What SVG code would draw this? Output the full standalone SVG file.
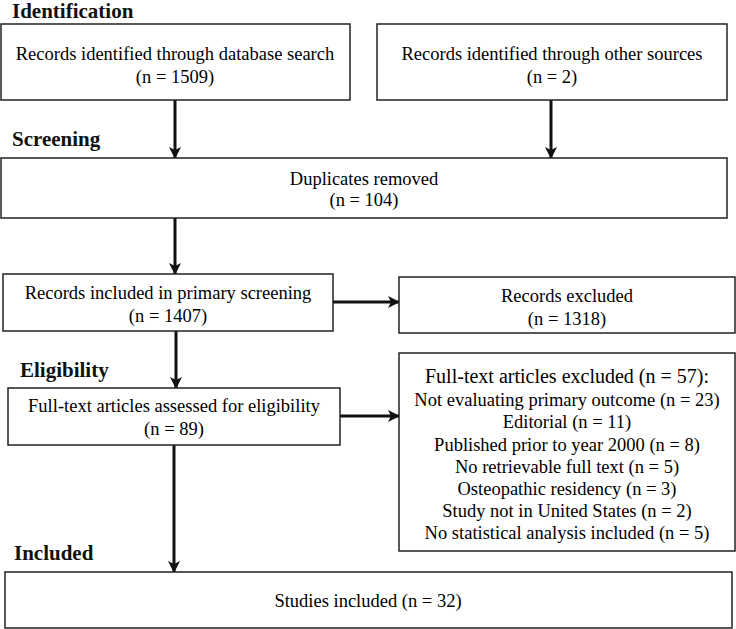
<svg xmlns="http://www.w3.org/2000/svg" width="736" height="629" viewBox="0 0 736 629">
<style>
.box{fill:#fff;stroke:#222;stroke-width:1.5}
.c{stroke:#111;stroke-width:3;fill:none}
</style>
<defs>
<marker id="ah" viewBox="0 0 12 12" refX="11" refY="6" markerWidth="12" markerHeight="12" markerUnits="userSpaceOnUse" orient="auto">
<path d="M0,0 L12,6 L0,12 L3,6 Z" fill="#111"/>
</marker>
</defs>
<rect width="736" height="629" fill="#fff"/>
<g id="headings">
<text x="12" y="18" font-family="Liberation Serif" font-size="21" font-weight="bold" fill="#111">Identification</text>
<text x="12" y="146" font-family="Liberation Serif" font-size="21" font-weight="bold" fill="#111">Screening</text>
<text x="20" y="377" font-family="Liberation Serif" font-size="21" font-weight="bold" fill="#111">Eligibility</text>
<text x="14" y="560" font-family="Liberation Serif" font-size="21" font-weight="bold" fill="#111">Included</text>
</g>
<g id="connectors">
<line class="c" x1="175" y1="100" x2="175" y2="158" marker-end="url(#ah)"/>
<line class="c" x1="551" y1="100" x2="551" y2="158" marker-end="url(#ah)"/>
<line class="c" x1="175" y1="218" x2="175" y2="274" marker-end="url(#ah)"/>
<line class="c" x1="333" y1="302" x2="399" y2="302" marker-end="url(#ah)"/>
<line class="c" x1="176" y1="331" x2="176" y2="388" marker-end="url(#ah)"/>
<line class="c" x1="340" y1="416" x2="399" y2="416" marker-end="url(#ah)"/>
<line class="c" x1="174" y1="445" x2="174" y2="572" marker-end="url(#ah)"/>
</g>
<g id="n1"><rect class="box" x="1" y="24" width="349" height="76"/>
<text x="175" y="60" font-family="Liberation Serif" font-size="18.5" text-anchor="middle">Records identified through database search</text>
<text x="175" y="83" font-family="Liberation Serif" font-size="18.5" text-anchor="middle">(n = 1509)</text></g>
<g id="n2"><rect class="box" x="377" y="24" width="350" height="76"/>
<text x="552" y="60" font-family="Liberation Serif" font-size="18.5" text-anchor="middle">Records identified through other sources</text>
<text x="552" y="83" font-family="Liberation Serif" font-size="18.5" text-anchor="middle">(n = 2)</text></g>
<g id="n3"><rect class="box" x="1" y="158" width="726" height="60"/>
<text x="364" y="185" font-family="Liberation Serif" font-size="18.5" text-anchor="middle">Duplicates removed</text>
<text x="364" y="206" font-family="Liberation Serif" font-size="18.5" text-anchor="middle">(n = 104)</text></g>
<g id="n4"><rect class="box" x="3" y="274" width="330" height="57"/>
<text x="168" y="299" font-family="Liberation Serif" font-size="18.5" text-anchor="middle">Records included in primary screening</text>
<text x="168" y="322" font-family="Liberation Serif" font-size="18.5" text-anchor="middle">(n = 1407)</text></g>
<g id="n5"><rect class="box" x="399" y="277" width="336" height="56"/>
<text x="567" y="302" font-family="Liberation Serif" font-size="18.5" text-anchor="middle">Records excluded</text>
<text x="567" y="325" font-family="Liberation Serif" font-size="18.5" text-anchor="middle">(n = 1318)</text></g>
<g id="n6"><rect class="box" x="8" y="388" width="332" height="57"/>
<text x="174" y="412" font-family="Liberation Serif" font-size="18.5" text-anchor="middle">Full-text articles assessed for eligibility</text>
<text x="174" y="435" font-family="Liberation Serif" font-size="18.5" text-anchor="middle">(n = 89)</text></g>
<g id="n7"><rect class="box" x="399" y="353" width="336" height="198"/>
<text x="567" y="383" font-family="Liberation Serif" font-size="20" text-anchor="middle">Full-text articles excluded (n = 57):</text>
<text x="567" y="406" font-family="Liberation Serif" font-size="18.5" text-anchor="middle">Not evaluating primary outcome (n = 23)</text>
<text x="567" y="428" font-family="Liberation Serif" font-size="18.5" text-anchor="middle">Editorial (n = 11)</text>
<text x="567" y="451" font-family="Liberation Serif" font-size="18.5" text-anchor="middle">Published prior to year 2000 (n = 8)</text>
<text x="567" y="473" font-family="Liberation Serif" font-size="18.5" text-anchor="middle">No retrievable full text (n = 5)</text>
<text x="567" y="495" font-family="Liberation Serif" font-size="18.5" text-anchor="middle">Osteopathic residency (n = 3)</text>
<text x="567" y="517" font-family="Liberation Serif" font-size="18.5" text-anchor="middle">Study not in United States (n = 2)</text>
<text x="567" y="539" font-family="Liberation Serif" font-size="18.5" text-anchor="middle">No statistical analysis included (n = 5)</text></g>
<g id="n8"><rect class="box" x="5" y="572" width="727" height="56"/>
<text x="368" y="607" font-family="Liberation Serif" font-size="18.5" text-anchor="middle">Studies included (n = 32)</text></g>
</svg>
